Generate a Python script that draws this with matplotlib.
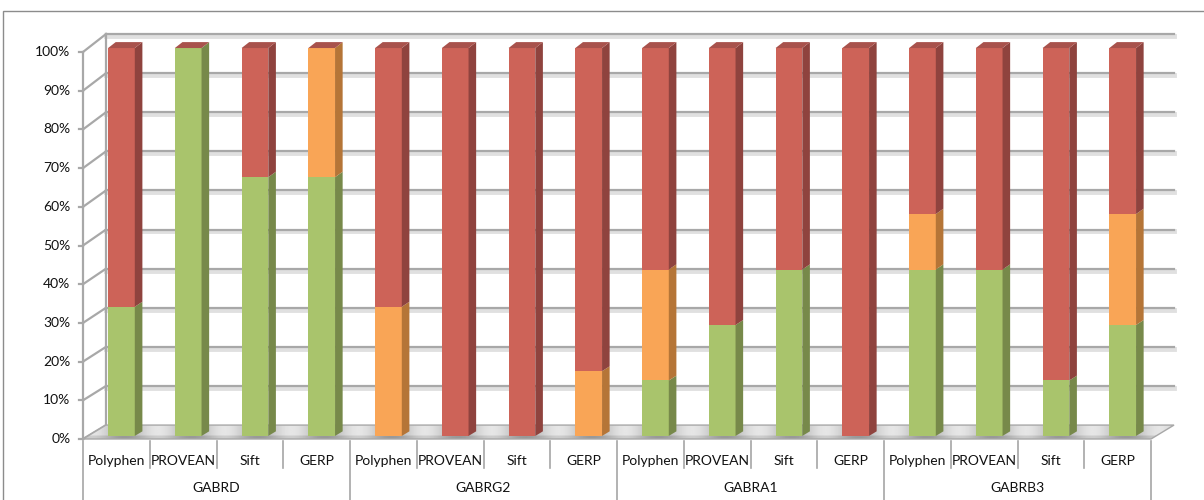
import numpy as np
import matplotlib.pyplot as plt
from matplotlib.patches import Polygon, Rectangle

plt.rcParams['font.family'] = ['Lato', 'DejaVu Sans']

# stacked shares (%) per predictor, bottom to top: green, orange, red
genes = ['GABRD', 'GABRG2', 'GABRA1', 'GABRB3']
tools = ['Polyphen', 'PROVEAN', 'Sift', 'GERP']
green = [33.3, 100.0, 66.7, 66.7,
         0.0, 0.0, 0.0, 0.0,
         14.3, 28.6, 42.9, 0.0,
         42.9, 42.9, 14.3, 28.6]
orange = [0.0, 0.0, 0.0, 33.3,
          33.3, 0.0, 0.0, 16.7,
          28.6, 0.0, 0.0, 0.0,
          14.3, 0.0, 0.0, 28.6]
red = [66.7, 0.0, 33.3, 0.0,
       66.7, 100.0, 100.0, 83.3,
       57.1, 71.4, 57.1, 100.0,
       42.8, 57.1, 85.7, 42.8]
yticks = np.arange(0, 101, 10)

series = [
    (green, '#A9C46C', '#77894A'),
    (orange, '#F9A556', '#B57537'),
    (red, '#CD6358', '#8F433E'),
]
top_col = '#A8524C'
txt_col = '#111111'
fs = 10

# depth of the 3d box, in data units
DX = 0.345


def dy(v):
    # slight perspective: the box gets deeper towards the top
    return 3.6 + 1.05 * v / 100.0


def pt(x, v, d):
    return (x + d * DX, v + d * dy(v))


fig = plt.figure(figsize=(12.04, 5.0), dpi=100)
ax = fig.add_axes([83 / 1204, 61 / 500, 1068 / 1204, 387 / 500])
ax.set_xlim(0, 16)
ax.set_ylim(0, 100)
ax.axis('off')

# outer chart frame
fig.add_artist(Rectangle((3 / 1204, -0.2), 1.2, 1.2 - 11 / 500,
                         transform=fig.transFigure, fill=False,
                         edgecolor='#8c8c8c', lw=1.0))

n = len(green)
grid_kw = dict(color='#a8a8a8', lw=1.6, clip_on=False, zorder=1)
shadow_kw = dict(color='#e0e0e0', lw=3.5, clip_on=False, zorder=0.9)

# back wall and left wall gridlines
for v in yticks:
    (x0, y0), (x1, y1) = pt(0, v, 1), pt(n, v, 1)
    if v > 0:
        ax.plot([x0, x1], [y0 - 0.5, y1 - 0.5], **shadow_kw)
        ax.plot([x0, x1], [y0, y1], **grid_kw)
    (fx, fy) = pt(0, v, 0)
    ax.plot([fx, x0], [fy, y0], **grid_kw)
    ax.plot([fx - 0.06, fx], [fy, fy], **grid_kw)
    ax.text(-0.19, v, f'{v}%', ha='right', va='center', fontsize=fs,
            color=txt_col)

for d in (0, 1):
    (x0, y0), (x1, y1) = pt(0, 0, d), pt(0, 100, d)
    ax.plot([x0, x1], [y0, y1], **grid_kw)

# floor with a soft sheen between the bars
floor = Polygon([pt(0, 0, 0), pt(n, 0, 0), pt(n, 0, 1), pt(0, 0, 1)],
                closed=True, facecolor='none', edgecolor='#a8a8a8',
                lw=1.0, clip_on=False, zorder=2.1)
ax.add_patch(floor)
xs = np.linspace(0, n + DX, 1400)
rows = np.linspace(0, 1, 12)[:, None]
shade = 0.80 + 0.10 * np.cos(2 * np.pi * (xs[None, :] - 0.12))
shade = shade - 0.10 * (rows < 0.25)
im = ax.imshow(shade, cmap='gray', vmin=0, vmax=1, aspect='auto',
               extent=(0, n + DX, 0, dy(0)), origin='lower',
               interpolation='bilinear', zorder=2)
im.set_clip_path(floor)
im.set_clip_box(fig.bbox)
ax.set_xlim(0, 16)
ax.set_ylim(0, 100)

# bars
d0, d1 = 0.22, 0.55
w = 0.40
for i in range(n):
    xl = i + 0.5 - w / 2
    xr = i + 0.5 + w / 2
    base = 0.0
    for vals, front, side in series:
        h = vals[i]
        if h <= 0:
            continue
        top = base + h
        b0 = pt(xl, base, d0)[1]
        t0 = pt(xl, top, d0)[1]
        ax.bar(xl + d0 * DX, t0 - b0, width=w, bottom=b0, align='edge',
               color=front, edgecolor='none', clip_on=False, zorder=3)
        face = Polygon([pt(xr, base, d0), pt(xr, base, d1),
                        pt(xr, top, d1), pt(xr, top, d0)],
                       closed=True, facecolor=side, edgecolor='none',
                       clip_on=False, zorder=3)
        ax.add_patch(face)
        base = top
    lid = Polygon([pt(xl, base, d0), pt(xr, base, d0),
                   pt(xr, base, d1), pt(xl, base, d1)],
                  closed=True, facecolor=top_col, edgecolor='none',
                  clip_on=False, zorder=3)
    ax.add_patch(lid)

# category axis: predictor row and gene row
sep_kw = dict(color='#a6a6a6', lw=1.2, clip_on=False, zorder=2)
for k in range(n + 1):
    bottom = -16.0 if k % 4 == 0 else -7.5
    ax.plot([k, k], [-0.4, bottom], **sep_kw)
for i in range(n):
    ax.text(i + 0.5, -5.7, tools[i % 4], ha='center', va='center',
            fontsize=fs, color=txt_col)
for g, name in enumerate(genes):
    ax.text(g * 4 + 2, -12.7, name, ha='center', va='center',
            fontsize=fs, color=txt_col)

fig.savefig('out.png', dpi=100)
